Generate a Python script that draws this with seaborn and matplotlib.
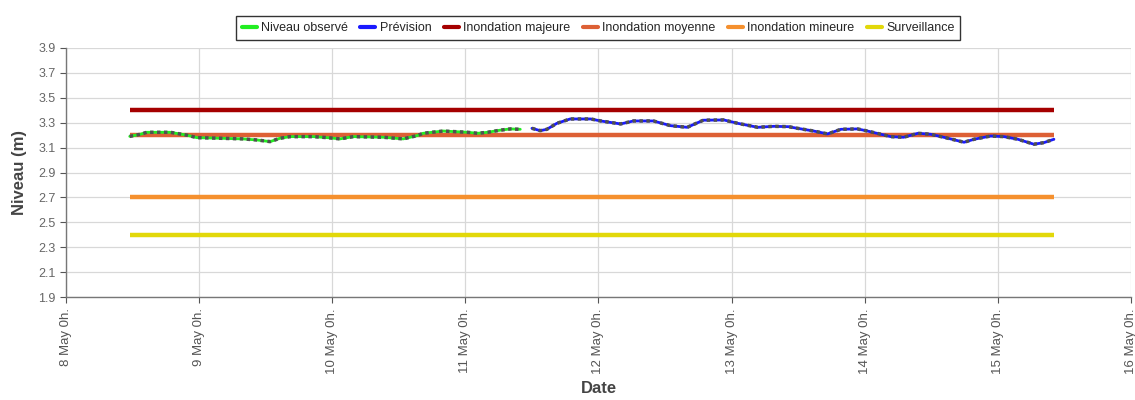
import matplotlib
matplotlib.use("Agg")
import matplotlib.pyplot as plt
import matplotlib.dates as mdates
from matplotlib.lines import Line2D
import numpy as np
import pandas as pd
import seaborn as sns

# hours since 8 May 00h
obs_hours = [11.5, 13.4, 14.6, 18.8, 21.8, 23.6, 27.8, 31.9, 34.5, 36.8, 38.6, 40.4,
             44.6, 47.1, 49.4, 51.8, 57.2, 60.8, 63.3, 64.4, 68.0, 72.4, 74.2, 76.0,
             78.3, 80.1, 81.9]
obs_values = [3.19, 3.207, 3.223, 3.223, 3.20, 3.18, 3.175, 3.17, 3.161, 3.148, 3.175, 3.188,
              3.188, 3.18, 3.17, 3.188, 3.183, 3.17, 3.196, 3.215, 3.233, 3.223, 3.215, 3.223,
              3.24, 3.25, 3.247]

prev_hours = [84.0, 85.5, 86.7, 88.5, 90.9, 94.6, 96.4, 100.0, 102.3, 105.9, 109.0, 112.0,
              114.9, 118.6, 121.1, 124.7, 127.6, 130.3, 131.2, 134.8, 137.3, 139.7, 142.7,
              144.5, 148.7, 151.0, 153.6, 155.9, 159.0, 161.9, 163.7, 166.7, 169.1, 171.6,
              174.5, 176.3, 178.1]
prev_values = [3.255, 3.236, 3.247, 3.295, 3.33, 3.33, 3.314, 3.29, 3.314, 3.314, 3.276, 3.263,
               3.32, 3.322, 3.295, 3.263, 3.271, 3.268, 3.26, 3.233, 3.21, 3.247, 3.25,
               3.233, 3.188, 3.183, 3.215, 3.207, 3.175, 3.143, 3.167, 3.193, 3.188, 3.167,
               3.127, 3.14, 3.167]

threshold_names = ["Inondation majeure", "Inondation moyenne", "Inondation mineure", "Surveillance"]
threshold_values = [3.4, 3.2, 2.7, 2.4]
threshold_colors = ["#a50000", "#dd6035", "#f5902e", "#e2d80a"]
threshold_span = [11.5, 178.1]

start = pd.Timestamp("2024-05-08 00:00")
to_dt = lambda hrs: [start + pd.Timedelta(hours=h) for h in hrs]

obs = pd.DataFrame({"date": to_dt(obs_hours), "niveau": obs_values})
prev = pd.DataFrame({"date": to_dt(prev_hours), "niveau": prev_values})

sns.set_style("whitegrid")
plt.rcParams["font.family"] = ["Liberation Sans", "DejaVu Sans"]

fig = plt.figure(figsize=(11.35, 4.0), dpi=100)
ax = fig.add_axes([0.0581, 0.2575, 0.9384, 0.6225])

for name, val, col in zip(threshold_names, threshold_values, threshold_colors):
    df = pd.DataFrame({"date": to_dt(threshold_span), "niveau": [val, val]})
    sns.lineplot(data=df, x="date", y="niveau", ax=ax, color=col, linewidth=3.2,
                 solid_capstyle="butt", zorder=2)

for df, col in [(obs, "#22ee22"), (prev, "#1a1aff")]:
    sns.lineplot(data=df, x="date", y="niveau", ax=ax, color=col, linewidth=2.0, zorder=3)
    sns.lineplot(data=df, x="date", y="niveau", ax=ax, color="#505050", linewidth=2.5,
                 linestyle=(0, (1, 1)), dash_capstyle="butt", zorder=4)

legend_labels = ["Niveau observé", "Prévision"] + threshold_names
legend_colors = ["#22ee22", "#1a1aff"] + threshold_colors
handles = [Line2D([0], [0], color=c, linewidth=3) for c in legend_colors]
leg = fig.legend(handles, legend_labels, loc="upper center", bbox_to_anchor=(0.527, 0.975),
                 ncol=6, frameon=True, fancybox=False, fontsize=9, handlelength=1.2,
                 handletextpad=0.35, columnspacing=1.0, borderpad=0.45)
leg.get_frame().set_edgecolor("#000000")
leg.get_frame().set_linewidth(1.0)

ax.set_ylim(1.9, 3.9)
ax.set_yticks(np.round(np.arange(1.9, 3.91, 0.2), 1))
ax.set_xlim(start, start + pd.Timedelta(days=8))
ax.xaxis.set_major_locator(mdates.DayLocator())
ax.xaxis.set_major_formatter(mdates.DateFormatter("%-d May 0h."))
plt.setp(ax.get_xticklabels(), rotation=90)

ax.grid(True, color="#d8d8d8", linewidth=0.9)
ax.tick_params(axis="both", colors="#555555", length=4, width=0.8,
               direction="out", left=True, bottom=True)
ax.tick_params(axis="y", labelcolor="#666666", labelsize=9)
ax.tick_params(axis="x", labelcolor="#555555", labelsize=9.5, pad=4)
for s in ["top", "right"]:
    ax.spines[s].set_visible(False)
for s in ["left", "bottom"]:
    ax.spines[s].set_color("#777777")
    ax.spines[s].set_linewidth(1.0)

ax.set_ylabel("Niveau (m)", fontsize=12, fontweight="bold", color="#444444", labelpad=8)
ax.set_xlabel("Date", fontsize=12, fontweight="bold", color="#444444", labelpad=5)

fig.savefig("out.png", dpi=100)
